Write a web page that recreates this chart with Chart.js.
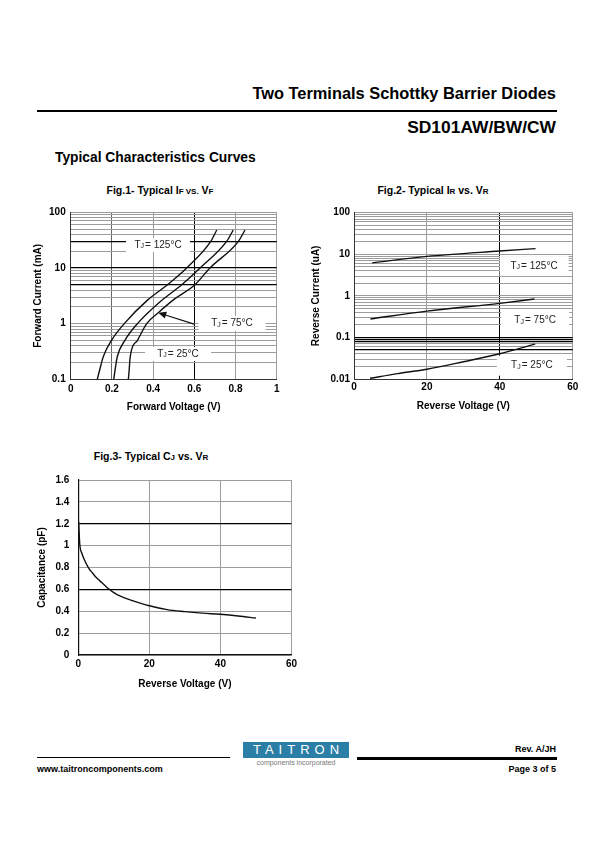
<!DOCTYPE html>
<html>
<head>
<meta charset="utf-8">
<title>SD101AW/BW/CW - Typical Characteristics Curves</title>
<script src="https://cdn.jsdelivr.net/npm/chart.js@4.4.1/dist/chart.umd.min.js"></script>
<style>
  body { margin:0; width:595px; height:842px; position:relative; background:#fff;
         font-family:"Liberation Sans", Arial, sans-serif; color:#000; overflow:hidden; }
  .t { position:absolute; white-space:nowrap; font-weight:bold; line-height:1; }
  .rule { position:absolute; background:#000; }
  canvas { position:absolute; }
  .figt { position:absolute; font-weight:bold; font-size:10.5px; line-height:1; transform:translateX(-50%); white-space:nowrap; }
  .figt small { font-size:8px; }
</style>
</head>
<body>
<div class="t" style="right:39px;top:85px;font-size:16.4px">Two Terminals Schottky Barrier Diodes</div>
<div class="rule" style="left:37px;top:110px;width:520px;height:2px"></div>
<div class="t" style="right:39px;top:119px;font-size:17.4px">SD101AW/BW/CW</div>
<div class="t" style="left:55px;top:151px;font-size:13.8px">Typical Characteristics Curves</div>

<div class="figt" style="left:160px;top:185px">Fig.1- Typical I<small>F VS.</small> V<small>F</small></div>
<div class="figt" style="left:433px;top:185px">Fig.2- Typical I<small>R</small> vs. V<small>R</small></div>
<div class="figt" style="left:151px;top:451px">Fig.3- Typical C<small>J</small> vs. V<small>R</small></div>

<canvas id="fig1" width="255" height="215" style="left:30px;top:200px"></canvas>
<canvas id="fig2" width="285" height="215" style="left:300px;top:200px"></canvas>
<canvas id="fig3" width="270" height="230" style="left:30px;top:465px"></canvas>

<!-- pied de page -->
<div class="rule" style="left:37px;top:757px;width:193px;height:1px"></div>
<div style="position:absolute;left:243px;top:742px;width:106px;height:16px;background:#2b7fa6;color:#fff;font-size:13px;letter-spacing:5px;padding-left:5px;box-sizing:border-box;text-align:center;line-height:16px">TAITRON</div>
<div style="position:absolute;left:243px;top:759px;width:106px;text-align:center;font-size:7px;line-height:1;color:#777">components incorporated</div>
<div class="rule" style="left:357px;top:757px;width:200px;height:3px"></div>
<div class="t" style="right:39px;top:745px;font-size:9px">Rev. A/JH</div>
<div class="t" style="left:37px;top:765px;font-size:9px">www.taitroncomponents.com</div>
<div class="t" style="right:39px;top:765px;font-size:9px">Page 3 of 5</div>

<script>
const FONT = '"Liberation Sans", Arial, sans-serif';
Chart.defaults.font.family = FONT;
Chart.defaults.color = '#000';
Chart.defaults.animation = false;

// ----- Fig.1 : IF vs VF (V, mA) -----
const vf125 = [0.129, 0.145, 0.158, 0.199, 0.26, 0.374, 0.47, 0.563, 0.68, 0.709];
const if125 = [0.1, 0.17, 0.254, 0.507, 1.0, 2.67, 5, 10, 30, 48];
const vf75  = [0.209, 0.218, 0.226, 0.264, 0.324, 0.43, 0.539, 0.628, 0.757, 0.789];
const if75  = [0.1, 0.17, 0.254, 0.507, 1.0, 2.4, 5, 10, 30, 48];
const vf25  = [0.28, 0.284, 0.289, 0.325, 0.369, 0.425, 0.5, 0.603, 0.676, 0.814, 0.846];
const if25  = [0.1, 0.15, 0.254, 0.507, 1.0, 1.57, 2.7, 5, 10, 30, 48];
const fig1Labels = [0.1, 1, 10, 100];
const fig1Dark = [5, 10, 30];

// ----- Fig.2 : IR vs VR (V, uA) -----
const vr125 = [5, 20, 40, 49.8];
const ir125 = [6.2, 8.9, 12.0, 13.7];
const vr75  = [4.5, 20, 40, 49.5];
const ir75  = [0.277, 0.43, 0.66, 0.838];
const vr25  = [4.4, 12, 20, 30, 40, 49.7];
const ir25  = [0.0104, 0.0135, 0.0172, 0.026, 0.0405, 0.069];
const fig2Labels = [0.01, 0.1, 1, 10, 100];
const fig2Dark = [0.05, 0.08, 0.09, 0.1];

// ----- Fig.3 : CJ vs VR (V, pF) -----
const vrCj = [0.1, 0.4, 1, 2, 3, 4, 5, 6, 8, 10, 12, 15, 20, 25, 30, 35, 40, 45, 50];
const cj   = [1.22, 1.02, 0.93, 0.85, 0.79, 0.75, 0.71, 0.68, 0.62, 0.57, 0.535, 0.5, 0.45, 0.415, 0.397, 0.383, 0.372, 0.357, 0.338];
const fig3Dark = [0.6, 1.2];

function pts(xs, ys) { return xs.map((x, i) => ({ x, y: ys[i] })); }
function logGrid(lo, hi) {
  const out = [];
  for (let e = Math.round(Math.log10(lo)); e < Math.round(Math.log10(hi)); e++)
    for (let m = 1; m < 10; m++) out.push(Number((m * Math.pow(10, e)).toPrecision(3)));
  out.push(hi);
  return out;
}
const has = (arr, v) => arr.some(a => Math.abs(a - v) < 1e-6 * Math.max(1, Math.abs(a)));
const plain = v => String(Number(Number(v).toFixed(3)));   // 0, 0.2, 1 (pas de "1.0")
const GRAY = '#9c9c9c';

function curve(data) {
  return { data, showLine: true, pointRadius: 0, borderColor: '#111', borderWidth: 1.4,
           cubicInterpolationMode: 'monotone', fill: false };
}

function drawTj(ctx, cx, cy, temp) {
  const big = '10px ' + FONT, small = '7px ' + FONT;
  const rest = '= ' + temp + '°C';
  ctx.font = big;
  const wT = ctx.measureText('T').width, wR = ctx.measureText(rest).width;
  ctx.font = small;
  const wJ = ctx.measureText('J').width;
  let x = cx - (wT + wJ + wR + 1) / 2;
  ctx.fillStyle = '#222'; ctx.textBaseline = 'middle'; ctx.textAlign = 'left';
  ctx.font = big; ctx.fillText('T', x, cy); x += wT;
  ctx.font = small; ctx.fillText('J', x, cy + 1); x += wJ + 1;
  ctx.font = big; ctx.fillText(rest, x, cy);
}

// étiquettes TJ (boîte blanche + texte) et flèche
const tjLabels = {
  id: 'tjLabels',
  beforeDatasetsDraw(chart, args, opts) {
    const { ctx, scales: { x, y } } = chart;
    ctx.save();
    (opts.items || []).forEach(it => {
      const cx = x.getPixelForValue(it.x), cy = y.getPixelForValue(it.y);
      ctx.fillStyle = '#fff';
      ctx.fillRect(cx - it.w / 2, cy - it.h / 2, it.w, it.h);
      drawTj(ctx, cx, cy, it.temp);
    });
    if (opts.arrow) {
      const a = opts.arrow;
      const x0 = x.getPixelForValue(a.from[0]), y0 = y.getPixelForValue(a.from[1]);
      const x1 = x.getPixelForValue(a.to[0]), y1 = y.getPixelForValue(a.to[1]);
      const ang = Math.atan2(y1 - y0, x1 - x0);
      ctx.strokeStyle = '#111'; ctx.lineWidth = 1.2;
      ctx.beginPath(); ctx.moveTo(x0, y0); ctx.lineTo(x1 - 5 * Math.cos(ang), y1 - 5 * Math.sin(ang)); ctx.stroke();
      ctx.fillStyle = '#111';
      ctx.beginPath();
      ctx.moveTo(x1, y1);
      ctx.lineTo(x1 - 8 * Math.cos(ang) + 3.5 * Math.sin(ang), y1 - 8 * Math.sin(ang) - 3.5 * Math.cos(ang));
      ctx.lineTo(x1 - 8 * Math.cos(ang) - 3.5 * Math.sin(ang), y1 - 8 * Math.sin(ang) + 3.5 * Math.cos(ang));
      ctx.closePath(); ctx.fill();
    }
    ctx.restore();
  }
};

const tickFont = { size: 10, weight: 'bold' };
const titleFont = { size: 10, weight: 'bold' };

// ----- Fig.1 -----
new Chart(document.getElementById('fig1'), {
  type: 'scatter',
  data: { datasets: [curve(pts(vf125, if125)), curve(pts(vf75, if75)), curve(pts(vf25, if25))] },
  plugins: [tjLabels],
  options: {
    responsive: false,
    layout: { padding: { top: 12.3, right: 8.3, left: 0, bottom: 0 } },
    plugins: {
      legend: { display: false }, tooltip: { enabled: false },
      tjLabels: {
        items: [
          { x: 0.424, y: 25.8, w: 64, h: 14, temp: '125' },
          { x: 0.783, y: 1.0, w: 67, h: 15, temp: '75' },
          { x: 0.521, y: 0.285, w: 66, h: 14, temp: '25' }
        ],
        arrow: { from: [0.603, 0.97], to: [0.425, 1.57] }
      }
    },
    scales: {
      x: {
        type: 'linear', min: 0, max: 1,
        ticks: { stepSize: 0.2, font: tickFont, padding: 4, maxRotation: 0, callback: plain },
        grid: { drawTicks: false, color: c => has([0.6], c.tick.value) ? '#000' : (has([0.2], c.tick.value) ? '#666' : GRAY), lineWidth: 1 },
        border: { color: '#333', width: 1 },
        title: { display: true, text: 'Forward Voltage (V)', font: titleFont, padding: { top: 0, bottom: 2 } },
        afterFit: s => { s.height = 35.7; }
      },
      y: {
        type: 'logarithmic', min: 0.1, max: 100,
        afterBuildTicks: s => { s.ticks = logGrid(0.1, 100).map(v => ({ value: v })); },
        ticks: { autoSkip: false, font: tickFont, padding: 5, callback: v => has(fig1Labels, v) ? String(v) : '' },
        grid: { drawTicks: false, color: c => has(fig1Dark, c.tick.value) ? '#000' : GRAY, lineWidth: c => has(fig1Dark, c.tick.value) ? 1.3 : 1 },
        border: { color: '#333', width: 1 },
        title: { display: true, text: 'Forward Current (mA)', font: titleFont, padding: { top: 2, bottom: 0 } },
        afterFit: s => { s.width = 40.7; }
      }
    }
  }
});

// ----- Fig.2 -----
new Chart(document.getElementById('fig2'), {
  type: 'scatter',
  data: { datasets: [curve(pts(vr125, ir125)), curve(pts(vr75, ir75)), curve(pts(vr25, ir25))] },
  plugins: [tjLabels],
  options: {
    responsive: false,
    layout: { padding: { top: 12.7, right: 12.3, left: 0, bottom: 0 } },
    plugins: {
      legend: { display: false }, tooltip: { enabled: false },
      tjLabels: {
        items: [
          { x: 49.4, y: 5.2, w: 69, h: 20, temp: '125' },
          { x: 49.7, y: 0.252, w: 68, h: 21, temp: '75' },
          { x: 48.8, y: 0.0209, w: 70, h: 20, temp: '25' }
        ]
      }
    },
    scales: {
      x: {
        type: 'linear', min: 0, max: 60,
        ticks: { stepSize: 20, font: tickFont, padding: 2, maxRotation: 0, callback: plain },
        grid: { drawTicks: false, color: c => has([40], c.tick.value) ? '#000' : GRAY, lineWidth: 1 },
        border: { color: '#333', width: 1 },
        title: { display: true, text: 'Reverse Voltage (V)', font: titleFont, padding: { top: 0, bottom: 3 } },
        afterFit: s => { s.height = 36; }
      },
      y: {
        type: 'logarithmic', min: 0.01, max: 100,
        afterBuildTicks: s => { s.ticks = logGrid(0.01, 100).map(v => ({ value: v })); },
        ticks: { autoSkip: false, font: tickFont, padding: 4, callback: v => has(fig2Labels, v) ? String(v) : '' },
        grid: { drawTicks: false, color: c => has(fig2Dark, c.tick.value) ? '#000' : GRAY, lineWidth: c => has(fig2Dark, c.tick.value) ? 1.3 : 1 },
        border: { color: '#333', width: 1 },
        title: { display: true, text: 'Reverse Current (uA)', font: titleFont, padding: { top: 10, bottom: 0 } },
        afterFit: s => { s.width = 54; }
      }
    }
  }
});

// ----- Fig.3 -----
new Chart(document.getElementById('fig3'), {
  type: 'scatter',
  data: { datasets: [curve(pts(vrCj, cj))] },
  options: {
    responsive: false,
    layout: { padding: { top: 11.7, right: 8.3, left: 0, bottom: 0 } },
    plugins: { legend: { display: false }, tooltip: { enabled: false } },
    scales: {
      x: {
        type: 'linear', min: 0, max: 60,
        ticks: { stepSize: 20, font: tickFont, padding: 3, maxRotation: 0, callback: plain },
        grid: { drawTicks: false, color: GRAY, lineWidth: 1 },
        border: { color: '#111', width: 1.2 },
        title: { display: true, text: 'Reverse Voltage (V)', font: titleFont, padding: { top: 0, bottom: 4.7 } },
        afterFit: s => { s.height = 40; }
      },
      y: {
        type: 'linear', min: 0, max: 1.6,
        ticks: { stepSize: 0.2, font: tickFont, padding: 9, callback: plain },
        grid: { drawTicks: false, color: c => has(fig3Dark, c.tick.value) ? '#000' : GRAY, lineWidth: c => has(fig3Dark, c.tick.value) ? 1.3 : 1 },
        border: { color: '#111', width: 1.2 },
        title: { display: true, text: 'Capacitance (pF)', font: titleFont, padding: { top: 6.7, bottom: 0 } },
        afterFit: s => { s.width = 48.3; }
      }
    }
  }
});
</script>
</body>
</html>
